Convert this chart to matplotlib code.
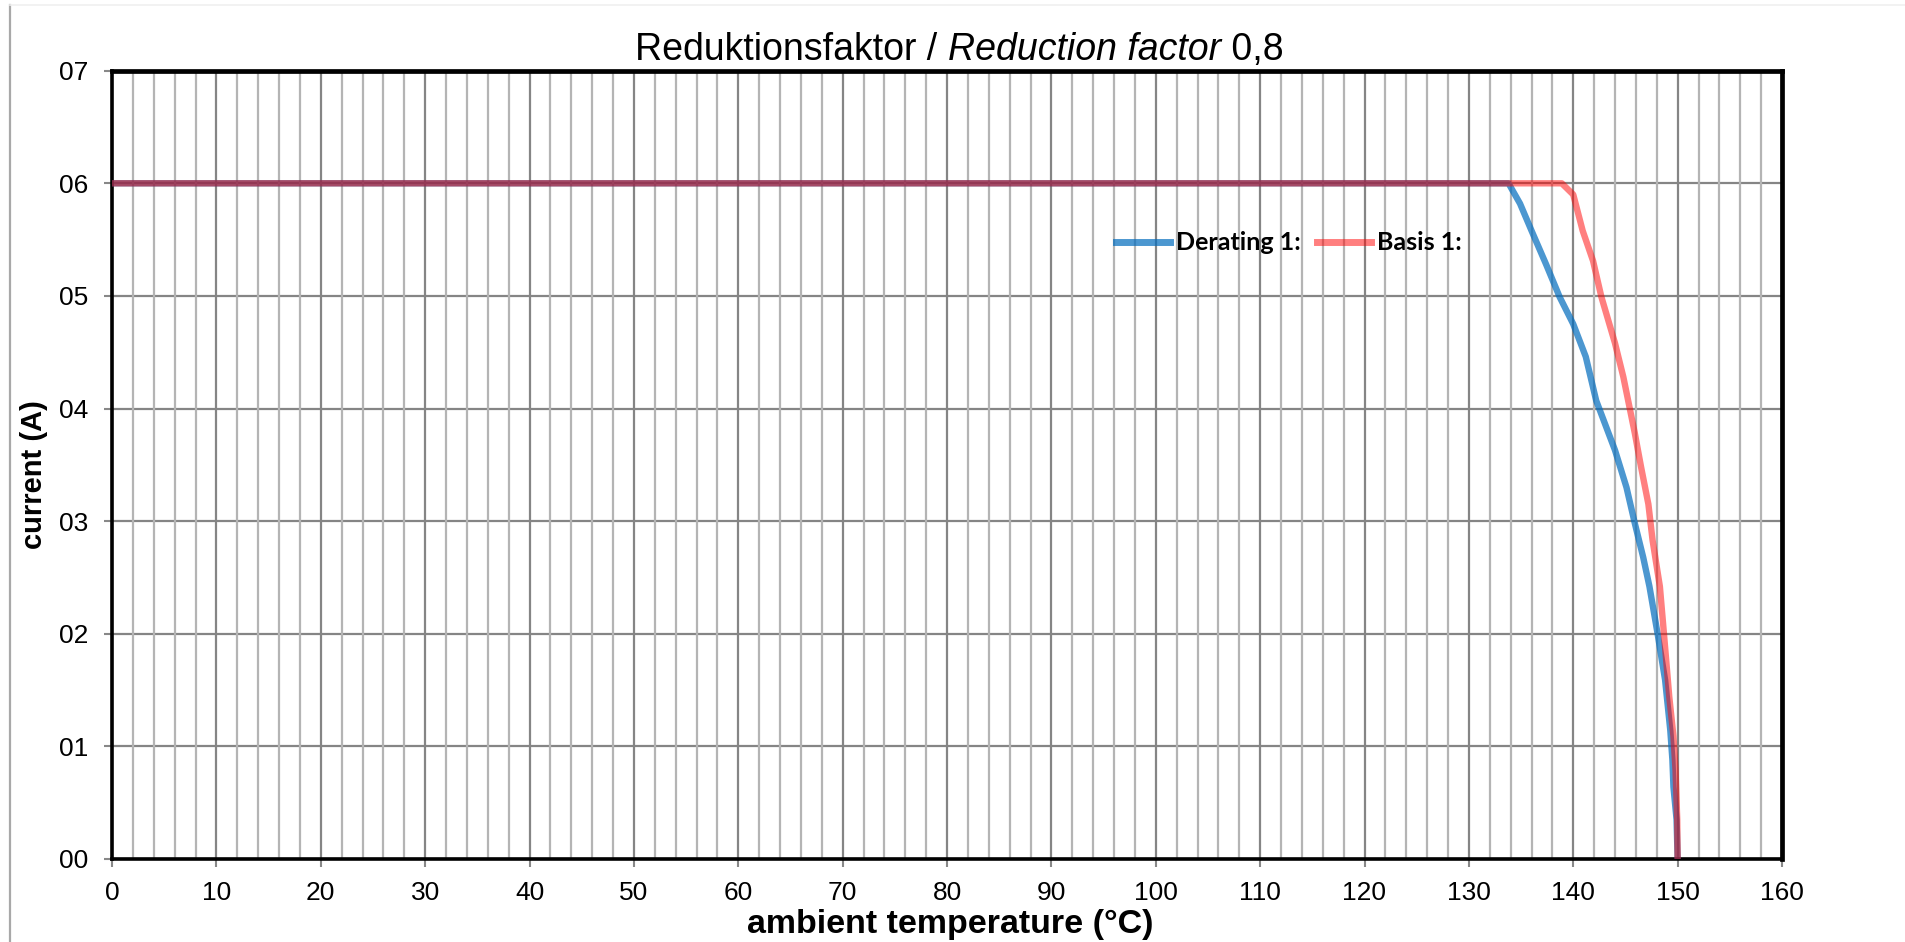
import matplotlib
matplotlib.use("Agg")
import matplotlib.pyplot as plt
from matplotlib.lines import Line2D
import numpy as np

# ---- data ----
derating_T = [0, 133.8, 134.9, 136.0, 137.4, 138.7, 140.0, 141.2, 142.2, 144.0, 145.1,
              145.9, 146.7, 147.3, 148.1, 148.8, 149.3, 149.5, 149.6, 149.9, 150.0]
derating_I = [6.0, 6.0, 5.82, 5.58, 5.28, 4.99, 4.75, 4.46, 4.07, 3.63, 3.30,
              2.98, 2.68, 2.42, 1.99, 1.59, 1.14, 0.88, 0.64, 0.35, 0.0]
basis_T = [0, 138.9, 140.0, 140.9, 141.9, 142.7, 144.0, 144.8, 145.9, 146.5, 147.2,
           147.6, 148.3, 148.7, 149.2, 149.6, 149.8, 149.96, 150.0]
basis_I = [6.0, 6.0, 5.9, 5.58, 5.31, 4.99, 4.58, 4.28, 3.78, 3.48, 3.15,
           2.83, 2.42, 1.99, 1.44, 1.09, 0.79, 0.35, 0.0]
x_ticks = list(range(0, 161, 10))
y_ticks = list(range(0, 8))
y_tick_labels = ["00", "01", "02", "03", "04", "05", "06", "07"]
series_labels = ["Derating 1:", "Basis 1:"]

plt.rcParams['font.family'] = ['Liberation Sans', 'DejaVu Sans']

fig = plt.figure(figsize=(19.05, 9.42), dpi=100)
ax = fig.add_axes([112/1905, 1-859/942, (1782-112)/1905, (859-70.7)/942])

ax.set_xlim(0, 160)
ax.set_ylim(0, 7)

# grid
for t in np.arange(0, 161, 2):
    if t % 10 == 0:
        continue
    ax.axvline(t, color='#b4b4b4', lw=1.6, zorder=1)
ax.set_xticks(x_ticks)
ax.set_yticks(y_ticks)
ax.set_yticklabels(y_tick_labels)
ax.grid(True, which='major', color='#858585', lw=1.6, zorder=1)
ax.set_axisbelow(True)

ax.plot(derating_T, derating_I, color=(0.0, 0.42, 0.74), alpha=0.7, lw=4.6,
        label=series_labels[0], zorder=3, solid_joinstyle='round')
ax.plot(basis_T, basis_I, color=(1.0, 0.0, 0.0), alpha=0.5, lw=4.6,
        label=series_labels[1], zorder=4, solid_joinstyle='round')

for s in ['top', 'right']:
    ax.spines[s].set_linewidth(3.4)
    ax.spines[s].set_color('black')
for s in ['left', 'bottom']:
    ax.spines[s].set_linewidth(2.6)
    ax.spines[s].set_color('black')

ax.tick_params(axis='both', direction='out', length=6, width=1.5, color='#888888',
               labelsize=19, labelcolor='black')
ax.tick_params(axis='y', pad=11)
ax.tick_params(axis='x', pad=10)

# axis labels
fig.text(34/1905, 1-475/942, "current (A)", rotation=90, ha='center', va='center',
         fontsize=21, fontweight='bold')
fig.text(950/1905, 1-925/942, "ambient temperature (°C)", ha='center', va='center',
         fontsize=24.5, fontweight='bold')

# title in mixed styles
t1 = fig.text(635/1905, 1-60/942, "Reduktionsfaktor / ", ha='left', va='baseline', fontsize=27)
t2 = ax.annotate("Reduction factor", xy=(1, 0), xycoords=t1, ha='left', va='bottom',
                 fontsize=27, fontstyle='italic', annotation_clip=False)
t3 = ax.annotate(" 0,8", xy=(1, 0), xycoords=t2, ha='left', va='bottom',
                 fontsize=27, annotation_clip=False)

leg = ax.legend(loc='center left', bbox_to_anchor=((1116-112)/1670, (859-243)/788.3),
                ncol=2, frameon=False, borderpad=0, borderaxespad=0,
                handlelength=2.15, handletextpad=0.25, columnspacing=0.65,
                prop={'family': 'Lato', 'weight': 'bold', 'size': 18})
for h in leg.get_lines():
    h.set_linewidth(5)

# figure border lines
fig.add_artist(Line2D([10/1905, 10/1905], [0, 1-5/942], color='#a8a8a8', lw=1.6,
                      transform=fig.transFigure))
fig.add_artist(Line2D([10/1905, 1], [1-5/942, 1-5/942], color='#f0f0f0', lw=1.2,
                      transform=fig.transFigure))

fig.savefig("out.png", dpi=100)
